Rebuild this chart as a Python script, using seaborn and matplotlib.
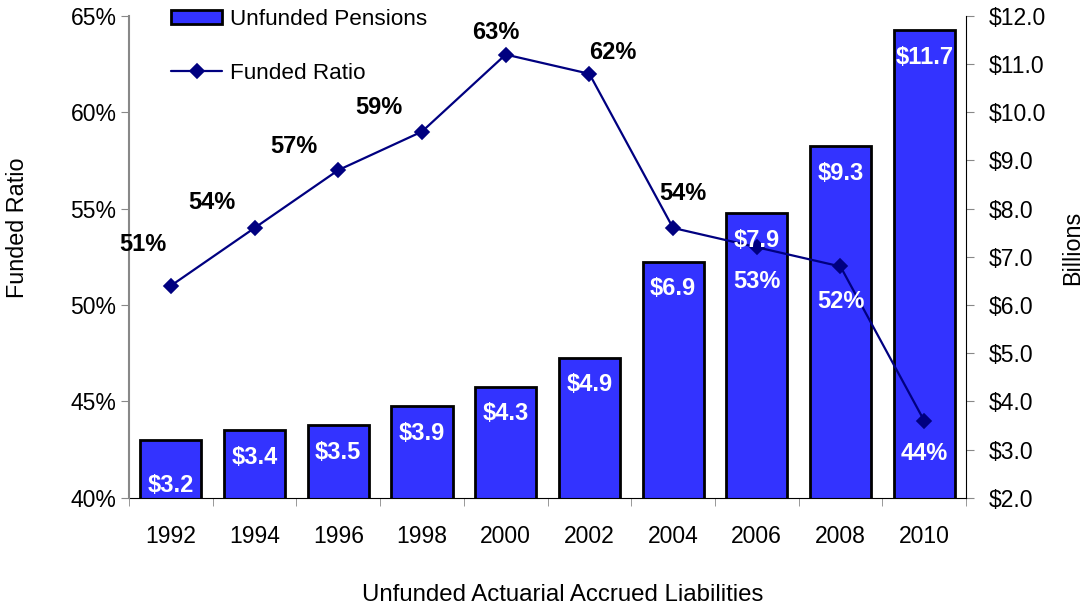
import matplotlib
matplotlib.use('Agg')
import matplotlib.pyplot as plt
from matplotlib.ticker import FuncFormatter, FixedLocator
import seaborn as sns
import numpy as np

years = ['1992', '1994', '1996', '1998', '2000', '2002', '2004', '2006', '2008', '2010']
unfunded = [3.2, 3.4, 3.5, 3.9, 4.3, 4.9, 6.9, 7.9, 9.3, 11.7]  # billions
funded_ratio = [51, 54, 57, 59, 63, 62, 54, 53, 52, 44]  # percent

# label offsets (points) for the ratio labels, and their colours
ratio_offsets = [(-20, 30), (-31, 18), (-32, 17), (-31, 17), (-7, 16), (17, 15),
                 (7, 25), (0, -25), (0, -25), (0, -24)]
ratio_colors = ['black'] * 7 + ['white'] * 3

sns.set_style('white')
plt.rcParams['font.family'] = ['Liberation Sans', 'DejaVu Sans']
plt.rcParams['text.color'] = 'black'
plt.rcParams['xtick.labelcolor'] = 'black'
plt.rcParams['ytick.labelcolor'] = 'black'

TICK = 16.5
BOLD = 17

fig = plt.figure(figsize=(10.86, 6.10), dpi=100)
ax = fig.add_axes([0.1188, 0.1841, 0.7707, 0.7897])  # bars, right-hand scale
ax2 = ax.twinx()                                       # line, left-hand scale

# bars
sns.barplot(x=years, y=unfunded, ax=ax, color='#3333FF', saturation=1,
            edgecolor='black', linewidth=2, width=0.73)
ax.set_ylim(2, 12)
ax.yaxis.tick_right()
ax.yaxis.set_label_position('right')
ax.yaxis.set_major_locator(FixedLocator(np.arange(2, 12.1, 1)))
ax.yaxis.set_major_formatter(FuncFormatter(lambda v, p: f'${v:.1f}'))

# line
sns.pointplot(x=years, y=funded_ratio, ax=ax2, color='#000080', markers='D',
              markersize=7.5, linewidth=1.6)
ax2.set_ylim(40, 65)
ax2.yaxis.tick_left()
ax2.yaxis.set_label_position('left')
ax2.yaxis.set_major_locator(FixedLocator(np.arange(40, 66, 5)))
ax2.yaxis.set_major_formatter(FuncFormatter(lambda v, p: f'{v:.0f}%'))
ax2.set_xlim(-0.5, len(years) - 0.5)
ax.set_xlim(-0.5, len(years) - 0.5)

for a in (ax, ax2):
    a.set_xlabel('')
    a.set_ylabel('')
    a.grid(False)
    if a.get_legend() is not None:
        a.get_legend().remove()
    for s in a.spines.values():
        s.set_visible(False)

ax.spines['bottom'].set_visible(True)
ax.spines['bottom'].set_color('black')
ax.spines['right'].set_visible(True)
ax.spines['right'].set_color('black')
ax2.spines['left'].set_visible(True)
ax2.spines['left'].set_color('#888888')
ax2.spines['left'].set_linewidth(1.5)

ax.tick_params(axis='y', which='major', right=True, left=False, direction='out',
               length=6, color='#888888', labelsize=TICK, pad=10.5)
ax2.tick_params(axis='y', which='major', left=True, right=False, direction='out',
                length=6, color='#888888', labelsize=TICK, pad=3)
ax.tick_params(axis='x', which='major', length=0, labelsize=TICK, pad=20)
ax.xaxis.set_minor_locator(FixedLocator(np.arange(-0.5, len(years), 1)))
ax.tick_params(axis='x', which='minor', bottom=True, direction='out', length=6,
               color='#888888')
ax2.tick_params(axis='x', bottom=False, top=False, labelbottom=False)

# bar value labels (drawn on top axes so they sit over the line)
for i, v in enumerate(unfunded):
    ypos = v - 0.56 if v - 2 > 1.3 else 2.26  # short bars: label sits at the base
    ax2.text(i, ypos, f'${v}', transform=ax.transData,
             ha='center', va='center', color='white', fontsize=BOLD,
             fontweight='bold', zorder=5)

# ratio labels
for i, (v, off, c) in enumerate(zip(funded_ratio, ratio_offsets, ratio_colors)):
    ax2.annotate(f'{v}%', (i, v), xytext=off, textcoords='offset points',
                 ha='center', va='center', color=c, fontsize=BOLD,
                 fontweight='bold', zorder=6)

# legend
handles = [ax.patches[0], ax2.lines[0]]
fig.legend(handles, ['Unfunded Pensions', 'Funded Ratio'], loc='upper left',
           bbox_to_anchor=(171 / 1086, 1 - 9 / 610), bbox_transform=fig.transFigure,
           frameon=False, fontsize=16.2, borderpad=0, borderaxespad=0,
           handlelength=2.27, handleheight=0.6, handletextpad=0.35,
           labelspacing=1.45)

fig.text(18 / 1086, 1 - 228 / 610, 'Funded Ratio', rotation=90,
         ha='center', va='center', fontsize=16.8)
fig.text(1073 / 1086, 1 - 248 / 610, 'Billions', rotation=90,
         ha='center', va='center', fontsize=16.8)
fig.text(563 / 1086, 1 - 595 / 610, 'Unfunded Actuarial Accrued Liabilities',
         ha='center', va='center', fontsize=17.3)

fig.savefig('out.png', dpi=100)
